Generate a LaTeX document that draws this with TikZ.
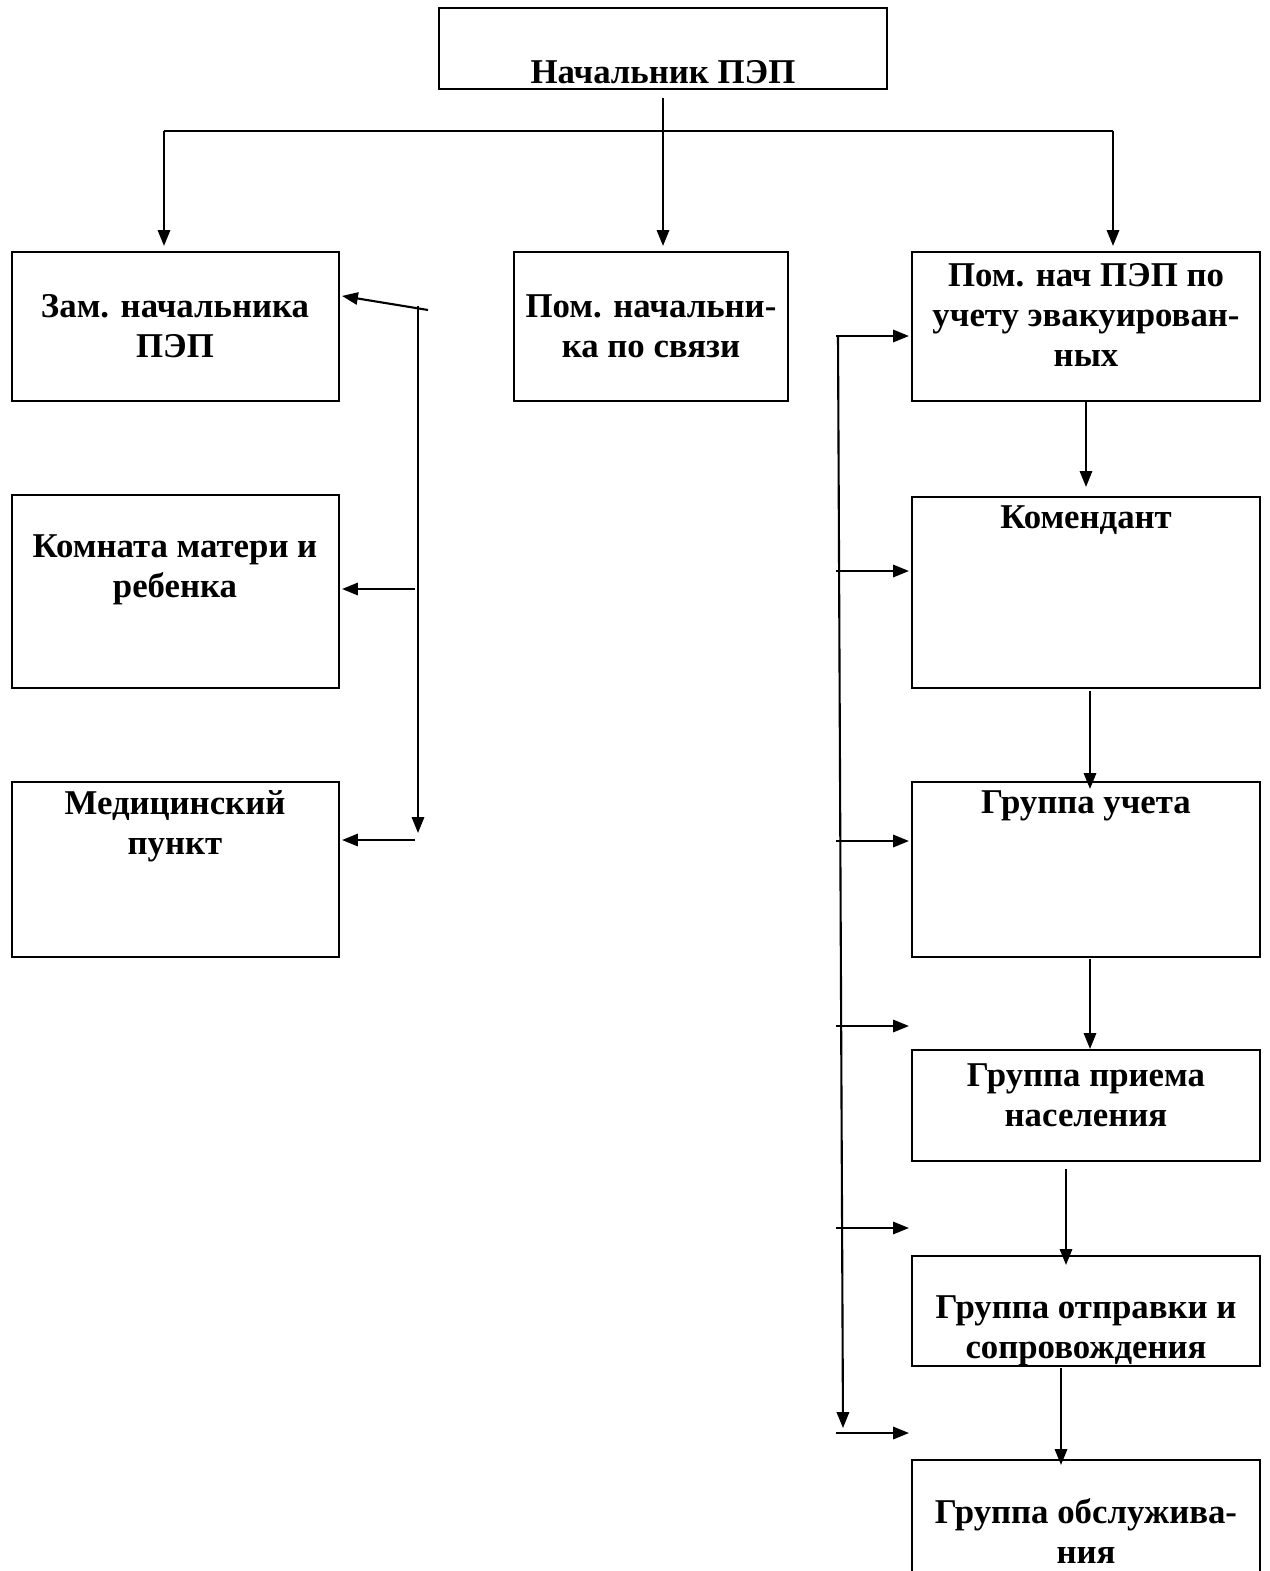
\documentclass[tikz,border=0pt]{standalone}
\usepackage{fontspec}
\setmainfont{Liberation Serif}
\usetikzlibrary{arrows.meta,fit}

\tikzset{
  box/.style={draw, line width=1.2pt, inner sep=0pt},
  lbl/.style={font=\fontsize{19.8}{22.7}\selectfont\bfseries, align=center, inner sep=0pt},
  ln/.style={line width=1.2pt},
  arr/.style={line width=1.2pt, -{Triangle[length=9pt,width=7pt]}}
}

\begin{document}
\begin{tikzpicture}[x=0.02cm, y=-0.02cm]
\useasboundingbox (0,0) rectangle (1269,1571);

% boxes
\node[box, fit={(439,8) (887,89)}] (nach) {};
\node[box, fit={(12,252) (339,401)}] (zam) {};
\node[box, fit={(514,252) (788,401)}] (svyaz) {};
\node[box, fit={(912,252) (1260,401)}] (pomuch) {};
\node[box, fit={(12,495) (339,688)}] (komnata) {};
\node[box, fit={(12,782) (339,957)}] (med) {};
\node[box, fit={(912,497) (1260,688)}] (koment) {};
\node[box, fit={(912,782) (1260,957)}] (uchet) {};
\node[box, fit={(912,1050) (1260,1161)}] (priem) {};
\node[box, fit={(912,1256) (1260,1366)}] (otpr) {};
\node[box, fit={(912,1460) (1260,1620)}] (obsl) {};

% labels
\node[lbl] (nachT) at (663,72) {Начальник ПЭП};
\node[lbl] (zamT) at (175,326) {Зам. начальника\\ПЭП};
\node[lbl] (svyazT) at (651,326) {Пом. начальни-\\ка по связи};
\node[lbl] (pomuchT) at (1086,315) {Пом. нач ПЭП по\\учету эвакуирован-\\ных};
\node[lbl] (komnataT) at (175,570) {Комната матери и\\ребенка};
\node[lbl] (medT) at (175,826) {Медицинский\\пункт};
\node[lbl] (komentT) at (1086,520) {Комендант};
\node[lbl] (uchetT) at (1086,806) {Группа учета};
\node[lbl] (priemT) at (1086,1095) {Группа приема\\населения};
\node[lbl] (otprT) at (1086,1331) {Группа отправки и\\сопровождения};
\node[lbl] (obslT) at (1086,1531) {Группа обслужива-\\ния};

% top level
\coordinate (hl) at (164,131);
\coordinate (hr) at (1113,131);
\draw[ln] (hl) -- (hr);
\draw[arr] ([shift={(0,8)}]nach.south) -- ([shift={(0,-5)}]nach.south |- svyaz.north);
\draw[arr] (hl) -- ([shift={(0,-5)}]hl |- zam.north);
\draw[arr] (hr) -- ([shift={(0,-5)}]hr |- pomuch.north);

% left bus
\coordinate (lt) at (418,306);
\coordinate (lb) at (418,833);
\coordinate (lt2) at (428,310);
\coordinate (lm) at (415,589);
\coordinate (ld) at (415,840);
\draw[arr] (lt) -- (lb);
\draw[arr] (lt2) -- ([shift={(2,45)}]zam.north east);
\draw[arr] (lm) -- ([shift={(2,0)}]lm -| komnata.east);
\draw[arr] (ld) -- ([shift={(2,0)}]ld -| med.east);

% right bus
\coordinate (rt) at (838,336);
\coordinate (rb) at (843,1428);
\draw[arr] (rt) -- (rb);
\foreach \n/\y in {pomuch/336, koment/571, uchet/841, priem/1026, otpr/1228, obsl/1433}{
  \coordinate (r-\n) at (836,\y);
  \draw[arr] (r-\n) -- ([shift={(-2,0)}]r-\n -| \n.west);
}

% chain
\draw[arr] (pomuch.south) -- ([shift={(0,-9)}]koment.north);
\draw[arr] ([shift={(4,2)}]koment.south) -- ([shift={(4,8)}]uchet.north);
\draw[arr] ([shift={(4,1)}]uchet.south) -- ([shift={(4,0)}]priem.north);
\draw[arr] ([shift={(-20,7)}]priem.south) -- ([shift={(-20,10)}]otpr.north);
\draw[arr] ([shift={(-25,1)}]otpr.south) -- ([shift={(-25,6)}]obsl.north);
\end{tikzpicture}
\end{document}
